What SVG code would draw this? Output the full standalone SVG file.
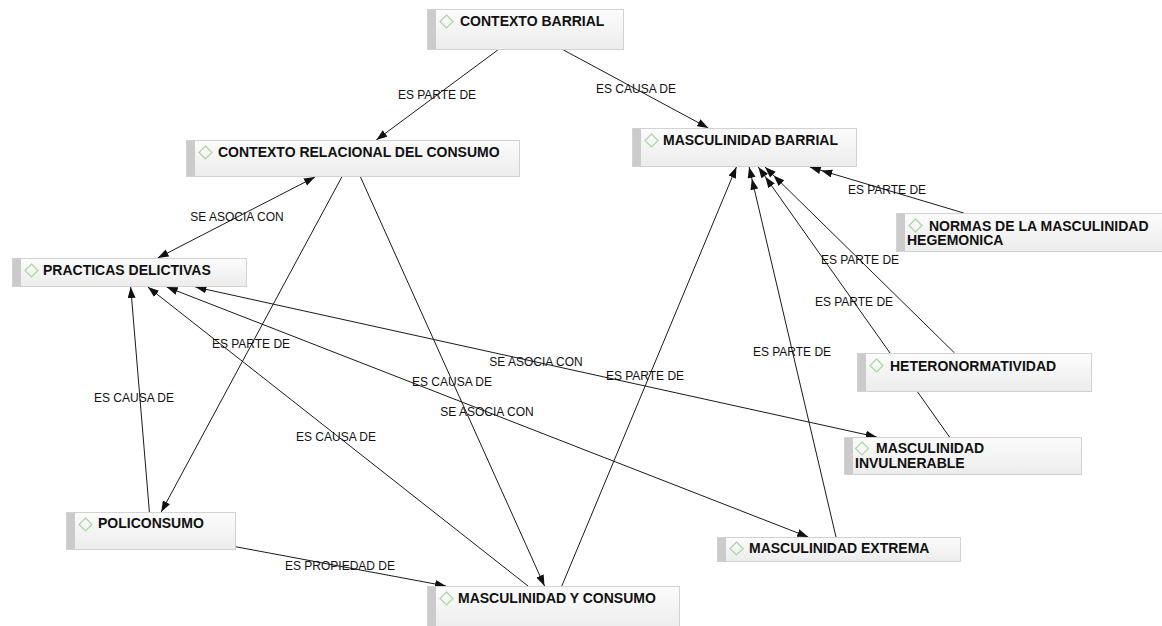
<svg xmlns="http://www.w3.org/2000/svg" width="1162" height="626" viewBox="0 0 1162 626">
<style>
.e{stroke:#1a1a1a;stroke-width:1;fill:none}
.lb{font-family:"Liberation Sans",Arial,Helvetica,sans-serif;font-size:12px;fill:#111;text-anchor:middle}
.box{fill:url(#g);stroke:#d2d2d2;stroke-width:1}
.bar{fill:#cbcbcb}
.dm{fill:none;stroke:#a9d7a0;stroke-width:1.2}
.t{font-family:"Liberation Sans",Arial,Helvetica,sans-serif;font-size:14px;font-weight:bold;fill:#111}
</style>
<defs>
<linearGradient id="g" x1="0" y1="0" x2="0" y2="1"><stop offset="0" stop-color="#fcfcfc"/><stop offset="1" stop-color="#ececec"/></linearGradient>
<marker id="a" markerWidth="12" markerHeight="9" refX="11" refY="4" orient="auto-start-reverse" markerUnits="userSpaceOnUse"><path d="M0,0 L11,4 L0,8 z" fill="#111"/></marker>
<marker id="a2" markerWidth="24" markerHeight="9" refX="23" refY="4" orient="auto" markerUnits="userSpaceOnUse"><path d="M0,0 L11,4 L0,8 z M12,0 L23,4 L12,8 z" fill="#111"/></marker>
</defs>
<rect width="1162" height="626" fill="#ffffff"/>
<g id="connectors">
<path class="e" d="M497.8,50 L376.3,140" marker-end="url(#a)"/>
<path class="e" d="M563.5,50 L708.3,128" marker-end="url(#a)"/>
<path class="e" d="M963.7,213 L809.8,167" marker-end="url(#a2)"/>
<path class="e" d="M315,177 L157.7,258" marker-start="url(#a)" marker-end="url(#a)"/>
<path class="e" d="M954.6,353 L765,167" marker-end="url(#a2)"/>
<path class="e" d="M949.5,437 L758.3,167" marker-end="url(#a2)"/>
<path class="e" d="M836,537 L749.1,167" marker-end="url(#a2)"/>
<path class="e" d="M561.8,586 L736.4,167" marker-end="url(#a)"/>
<path class="e" d="M341.8,177 L161.2,512" marker-end="url(#a)"/>
<path class="e" d="M360.5,177 L544.5,586" marker-end="url(#a)"/>
<path class="e" d="M149.4,512 L130.7,287" marker-end="url(#a)"/>
<path class="e" d="M528,586 L147.9,287" marker-end="url(#a)"/>
<path class="e" d="M166.7,287 L808.2,537" marker-start="url(#a)" marker-end="url(#a)"/>
<path class="e" d="M195.4,287 L876.7,437" marker-start="url(#a)" marker-end="url(#a)"/>
<path class="e" d="M236,546.8 L446,586" marker-end="url(#a)"/>
<text class="lb" x="437" y="99">ES PARTE DE</text>
<text class="lb" x="636" y="93">ES CAUSA DE</text>
<text class="lb" x="887" y="194">ES PARTE DE</text>
<text class="lb" x="237" y="221">SE ASOCIA CON</text>
<text class="lb" x="860" y="264">ES PARTE DE</text>
<text class="lb" x="854" y="306">ES PARTE DE</text>
<text class="lb" x="792" y="356">ES PARTE DE</text>
<text class="lb" x="645" y="380">ES PARTE DE</text>
<text class="lb" x="251" y="348">ES PARTE DE</text>
<text class="lb" x="452" y="386">ES CAUSA DE</text>
<text class="lb" x="134" y="402">ES CAUSA DE</text>
<text class="lb" x="336" y="441">ES CAUSA DE</text>
<text class="lb" x="487" y="416">SE ASOCIA CON</text>
<text class="lb" x="536" y="366">SE ASOCIA CON</text>
<text class="lb" x="340" y="570">ES PROPIEDAD DE</text>
</g>
<g id="n-contexto-barrial">
<rect class="box" x="427.5" y="9.5" width="196" height="40"/><rect class="bar" x="428" y="10" width="8" height="39"/>
<path class="dm" d="M446.5,15 L453,21.5 L446.5,28 L440,21.5 Z"/>
<text class="t" x="460" y="26">CONTEXTO BARRIAL</text>
</g>
<g id="n-contexto-relacional">
<rect class="box" x="186.5" y="140.5" width="333" height="36"/><rect class="bar" x="187" y="141" width="8" height="35"/>
<path class="dm" d="M205.5,146 L212,152.5 L205.5,159 L199,152.5 Z"/>
<text class="t" x="218" y="157">CONTEXTO RELACIONAL DEL CONSUMO</text>
</g>
<g id="n-masculinidad-barrial">
<rect class="box" x="632.5" y="128.5" width="224" height="38"/><rect class="bar" x="633" y="129" width="8" height="37"/>
<path class="dm" d="M651.5,134 L658,140.5 L651.5,147 L645,140.5 Z"/>
<text class="t" x="663" y="145">MASCULINIDAD BARRIAL</text>
</g>
<g id="n-normas">
<rect class="box" x="896.5" y="213.5" width="270" height="38"/><rect class="bar" x="897" y="214" width="8" height="37"/>
<path class="dm" d="M915.5,219 L922,225.5 L915.5,232 L909,225.5 Z"/>
<text class="t" x="929" y="231">NORMAS DE LA MASCULINIDAD</text>
<text class="t" x="907" y="245">HEGEMONICA</text>
</g>
<g id="n-practicas">
<rect class="box" x="12.5" y="258.5" width="234" height="28"/><rect class="bar" x="13" y="259" width="8" height="27"/>
<path class="dm" d="M31.5,264 L38,270.5 L31.5,277 L25,270.5 Z"/>
<text class="t" x="43" y="275">PRACTICAS DELICTIVAS</text>
</g>
<g id="n-heteronormatividad">
<rect class="box" x="857.5" y="353.5" width="234" height="38"/><rect class="bar" x="858" y="354" width="8" height="37"/>
<path class="dm" d="M876.5,359 L883,365.5 L876.5,372 L870,365.5 Z"/>
<text class="t" x="890" y="371">HETERONORMATIVIDAD</text>
</g>
<g id="n-invulnerable">
<rect class="box" x="844.5" y="437.5" width="237" height="37"/><rect class="bar" x="845" y="438" width="8" height="36"/>
<path class="dm" d="M862,442 L868.5,448.5 L862,455 L855.5,448.5 Z"/>
<text class="t" x="876" y="453">MASCULINIDAD</text>
<text class="t" x="855" y="468">INVULNERABLE</text>
</g>
<g id="n-policonsumo">
<rect class="box" x="66.5" y="512.5" width="169" height="37"/><rect class="bar" x="67" y="513" width="8" height="36"/>
<path class="dm" d="M85.5,518 L92,524.5 L85.5,531 L79,524.5 Z"/>
<text class="t" x="98" y="528">POLICONSUMO</text>
</g>
<g id="n-masculinidad-consumo">
<rect class="box" x="427.5" y="586.5" width="252" height="44"/><rect class="bar" x="428" y="587" width="8" height="40"/>
<path class="dm" d="M446.5,592 L453,598.5 L446.5,605 L440,598.5 Z"/>
<text class="t" x="458" y="603">MASCULINIDAD Y CONSUMO</text>
</g>
<g id="n-masculinidad-extrema">
<rect class="box" x="717.5" y="537.5" width="243" height="24"/><rect class="bar" x="718" y="538" width="8" height="23"/>
<path class="dm" d="M736.5,542 L743,548.5 L736.5,555 L730,548.5 Z"/>
<text class="t" x="749" y="553">MASCULINIDAD EXTREMA</text>
</g>
</svg>
